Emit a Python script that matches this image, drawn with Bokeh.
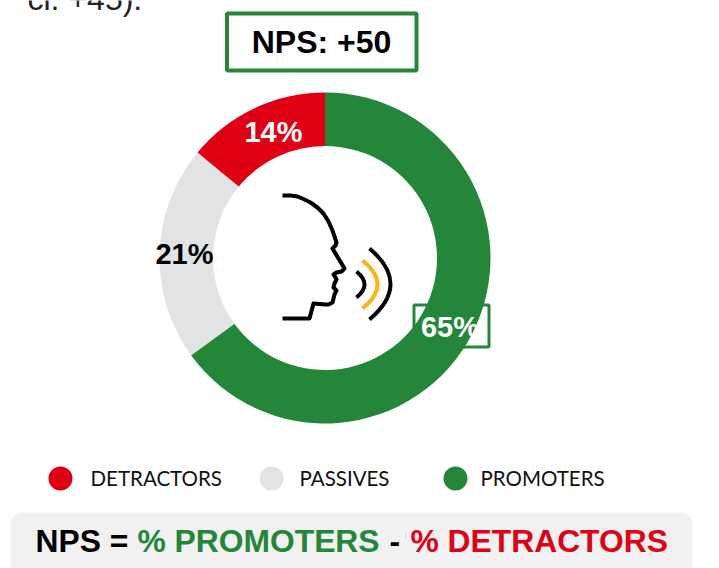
from math import pi
from bokeh.plotting import figure
from bokeh.models import BoxAnnotation
from bokeh.core.properties import value
from bokeh.embed import file_html
from bokeh.resources import INLINE

categories = ["PROMOTERS", "PASSIVES", "DETRACTORS"]
shares = [65, 21, 14]
colors = ["#248639", "#E2E3E5", "#E00014"]
nps_text = "NPS: +50"
cut_text = "cl. +45)."

W, H = 719, 568
GREEN, RED, GREY = colors[0], colors[2], colors[1]
def Y(py):
    return H - py

p = figure(width=W, height=H, x_range=(0, W), y_range=(0, H),
           output_backend="svg", toolbar_location=None,
           min_border=0, outline_line_color=None, background_fill_color="white",
           border_fill_color="white")
p.margin = (0, 0, 0, 0)
p.axis.visible = False
p.grid.visible = False

ARIAL = value("Liberation Sans")
def label(x, py, s, size, color="black", bold=True, align="left", font=ARIAL):
    p.text([x], [Y(py)], text=[s], text_font=font, text_font_size=f"{size}px",
           text_font_style="bold" if bold else "normal", text_color=color,
           text_align=align, text_baseline="middle")

# clipped text at the top
label(27, -2, cut_text, 32, bold=False, color="#222222")

# NPS box
p.add_layout(BoxAnnotation(left=226.5, right=416, top=Y(13), bottom=Y(70),
                           fill_color="white", fill_alpha=1,
                           line_color=GREEN, line_alpha=1, line_width=4, level="underlay"))
label(321, 41.5, nps_text, 32, align="center")

# box behind the ring's 65% label
p.add_layout(BoxAnnotation(left=413.5, right=488.5, top=Y(304.5), bottom=Y(346.5),
                           fill_color="white", fill_alpha=1,
                           line_color=GREEN, line_alpha=1, line_width=3, level="underlay"))

# donut, clockwise from the top
CX, CY, RO, RI = 324.5, 257.5, 165.5, 112
total = sum(shares)
a = pi / 2
for v, c in zip(shares, colors):
    b = a - 2 * pi * v / total
    p.annular_wedge([CX], [Y(CY)], inner_radius=RI, outer_radius=RO,
                    start_angle=b, end_angle=a, fill_color=c, line_color=None)
    a = b

label_pos = [(449.5, 326.5), (184, 253.5), (273, 131.5)]
label_col = ["white", "black", "white"]
for v, (x, y), c in zip(shares, label_pos, label_col):
    label(x, y, f"{v}%", 29, color=c, align="center")

# speaking head icon
head_x = [282, 290, 297, 304, 310, 317, 323, 328, 332, 334, 336, 335, 332, 335, 338, 341, 344, 341, 336, 333, 335, 336, 334, 333, 336, 334, 333, 332, 328, 325, 313, 309, 282]
head_y = [195, 195, 196, 199, 202, 207, 213, 221, 230, 236, 242, 245, 248, 253, 258, 263, 268, 271, 272, 274, 277, 279, 283, 287, 290, 294, 298, 302, 304, 304, 303, 318, 318]
p.line(head_x, [Y(y) for y in head_y], line_color="black", line_width=4, line_join="round")

for x0, y0, y1, xm, c in [(369, 248, 319, 390, "black"),
                          (362, 260, 308, 377, "#FDB515"),
                          (356, 271, 297, 364, "black")]:
    ym = (y0 + y1) / 2
    cx = 2 * xm - x0
    p.quadratic([x0], [Y(y0)], [x0], [Y(y1)], [cx], [Y(ym)], line_color=c, line_width=4)

# legend
for x, tx, name, c in [(60, 90, categories[2], RED), (271, 299, categories[1], GREY), (455, 480, categories[0], GREEN)]:
    p.scatter([x], [Y(478)], marker="circle", size=24, fill_color=c, line_color=None)
    label(tx, 477.5, name, 20.5, bold=False, font=value("Lato"), color="#111111")

# formula band
p.add_layout(BoxAnnotation(left=10, right=692, top=Y(512), bottom=Y(575),
                           fill_color="#F1F1F1", fill_alpha=1, line_color=None,
                           border_radius=12, level="underlay"))
for x, s, c in [(35, "NPS =", "black"), (137, "% " + categories[0], GREEN),
                (389, "-", "black"), (410, "% " + categories[2], RED)]:
    label(x, 540.5, s, 31.8, color=c)

open("out.html", "w").write(file_html(p, INLINE))
